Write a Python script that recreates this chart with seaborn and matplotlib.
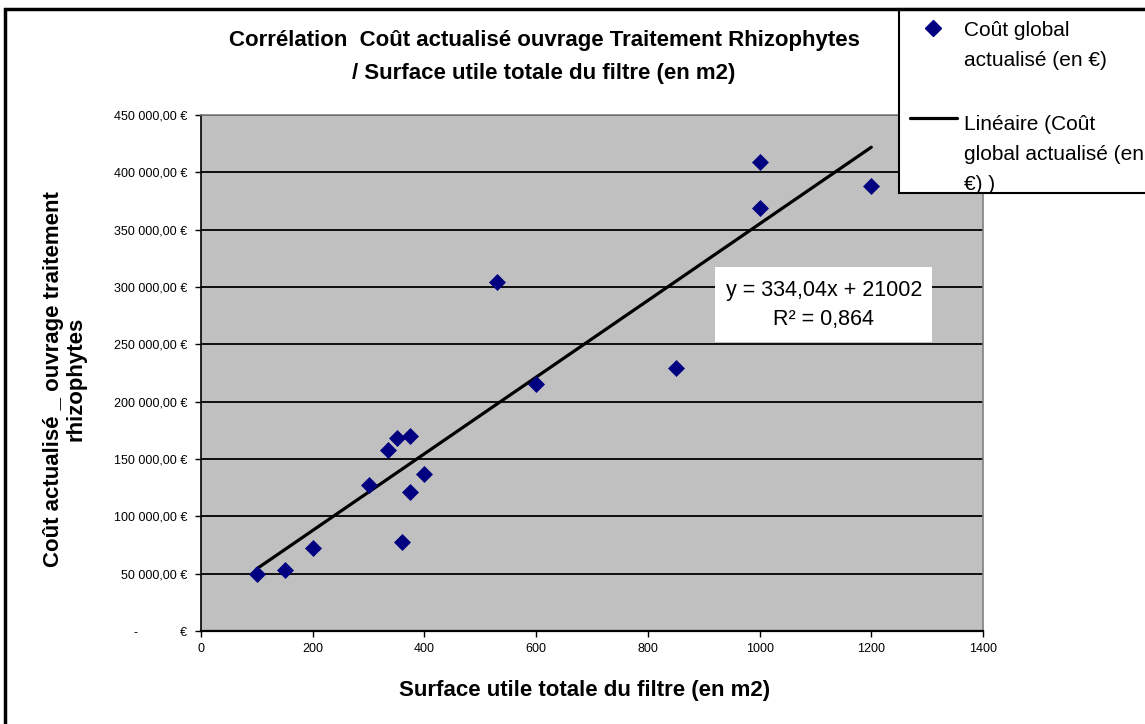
import matplotlib

matplotlib.use("Agg")
import matplotlib.pyplot as plt
import pandas as pd
import seaborn as sns
from matplotlib.lines import Line2D
from matplotlib.patches import Rectangle
from matplotlib.ticker import FuncFormatter, MultipleLocator

# surface (m2) / coût global actualisé (€)
SURFACE: list[float] = [100, 150, 200, 300, 335, 350, 360, 375, 375, 400, 530, 600, 850, 1000, 1000, 1200]
COUT: list[float] = [49700, 53200, 72400, 127000, 157900, 168300, 77400, 170000, 121200, 136900,
                     304400, 215400, 229600, 408800, 368900, 388100]

TITLE = "Corrélation  Coût actualisé ouvrage Traitement Rhizophytes\n/ Surface utile totale du filtre (en m2)"
X_LABEL = "Surface utile totale du filtre (en m2)"
Y_LABEL = "Coût actualisé _ ouvrage traitement\nrhizophytes"
SERIES_LABEL = "Coût global\nactualisé (en €)"
TREND_LABEL = "Linéaire (Coût\nglobal actualisé (en\n€) )"
EQUATION = "y = 334,04x + 21002\nR² = 0,864"

NAVY = "#000080"
PLOT_BG = "#C0C0C0"
W, H = 1145, 724


def euro_format(value: float, _pos: int) -> str:
    if value == 0:
        return "-            €"
    text = f"{value:,.2f}".replace(",", " ").replace(".", ",")
    return f"{text} €"


def fx(px: float) -> float:
    return px / W


def fy(py: float) -> float:
    return 1 - py / H


def main() -> None:
    sns.set_style("white")
    plt.rcParams["font.family"] = ["Liberation Sans", "DejaVu Sans"]
    plt.rcParams.update({"text.color": "black", "axes.labelcolor": "black",
                         "xtick.color": "black", "ytick.color": "black"})

    df = pd.DataFrame({"surface": SURFACE, "cout": COUT})

    fig = plt.figure(figsize=(W / 100, H / 100), dpi=100)
    ax = fig.add_axes([fx(201), fy(631), (983 - 201) / W, (631 - 115) / H])
    ax.set_facecolor(PLOT_BG)

    sns.regplot(data=df, x="surface", y="cout", ax=ax, scatter=False, ci=None,
                line_kws={"color": "black", "linewidth": 2.3, "zorder": 3})
    sns.scatterplot(data=df, x="surface", y="cout", ax=ax, marker="D", s=75,
                    color=NAVY, edgecolor=NAVY, linewidth=0, zorder=4)

    ax.set_xlim(0, 1400)
    ax.set_ylim(0, 450000)
    ax.xaxis.set_major_locator(MultipleLocator(200))
    ax.yaxis.set_major_locator(MultipleLocator(50000))
    ax.yaxis.set_major_formatter(FuncFormatter(euro_format))
    ax.grid(axis="y", color="black", linewidth=1.3)
    ax.set_axisbelow(True)
    ax.tick_params(axis="both", direction="out", length=4, width=1, color="black",
                   labelsize=9, bottom=True, left=True)
    ax.tick_params(axis="y", pad=6)
    ax.tick_params(axis="x", pad=5)
    for side in ["top", "right"]:
        ax.spines[side].set_color("#808080")
        ax.spines[side].set_linewidth(1.2)
    ax.spines["left"].set_color("black")
    ax.spines["left"].set_linewidth(1.2)
    ax.spines["bottom"].set_color("black")
    ax.spines["bottom"].set_linewidth(1.6)

    ax.set_xlabel(X_LABEL, fontsize=16, fontweight="bold")
    ax.xaxis.set_label_coords((585 - 201) / 782, (631 - 680) / 516)
    ax.set_ylabel(Y_LABEL, fontsize=16, fontweight="bold", linespacing=1.05)
    ax.yaxis.set_label_coords((86 - 201) / 782, (631 - 379) / 516)

    fig.text(fx(544), fy(57), TITLE, ha="center", va="center", fontsize=16,
             fontweight="bold", linespacing=1.8)

    # trendline equation box
    fig.patches.append(Rectangle((fx(715), fy(342)), (932 - 715) / W, (342 - 267) / H,
                                 transform=fig.transFigure, facecolor="white", edgecolor="none", zorder=5))
    fig.text(fx(824), fy(305), EQUATION, ha="center", va="center", fontsize=15.5,
             linespacing=1.5, zorder=6)

    # legend box, drawn like the spreadsheet one (handle next to first text line)
    fig.patches.append(Rectangle((fx(899), fy(193)), 0.3, (193 - 9) / H, transform=fig.transFigure,
                                 facecolor="white", edgecolor="black", linewidth=1.5, zorder=5))
    fig.add_artist(Line2D([fx(933)], [fy(28)], transform=fig.transFigure, marker="D",
                          markersize=8, color=NAVY, linestyle="none", zorder=6))
    fig.add_artist(Line2D([fx(910), fx(957)], [fy(118), fy(118)], transform=fig.transFigure,
                          color="black", linewidth=2.3, zorder=6))
    fig.text(fx(964), fy(21), SERIES_LABEL, ha="left", va="top", fontsize=15,
             linespacing=1.75, zorder=6)
    fig.text(fx(964), fy(115), TREND_LABEL, ha="left", va="top", fontsize=15,
             linespacing=1.75, zorder=6)

    # outer chart frame
    fig.patches.append(Rectangle((fx(5), -0.1), 1.2, 1.1 - 9 / H, transform=fig.transFigure,
                                 fill=False, edgecolor="black", linewidth=2.5, zorder=7))

    fig.savefig("out.png", dpi=100)


if __name__ == "__main__":
    main()
